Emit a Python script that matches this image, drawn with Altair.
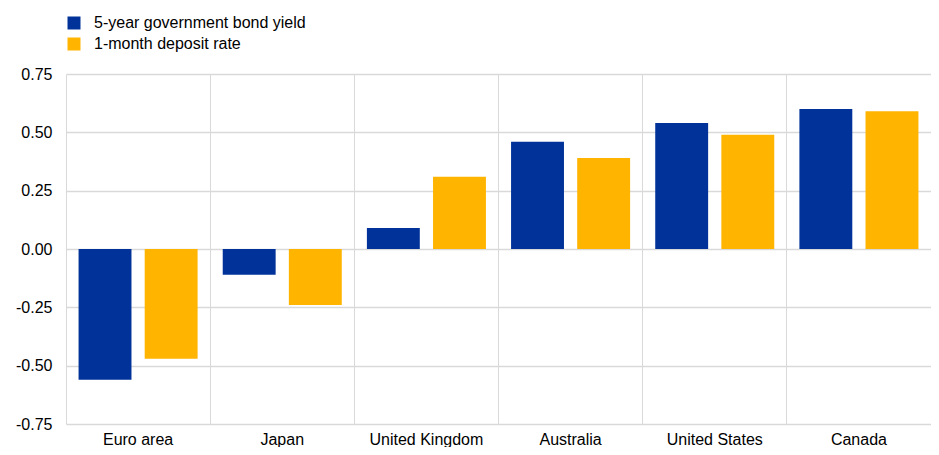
import altair as alt
import pandas as pd

countries = ["Euro area", "Japan", "United Kingdom", "Australia", "United States", "Canada"]
bond_yield = [-0.56, -0.11, 0.09, 0.46, 0.54, 0.60]
deposit_rate = [-0.47, -0.24, 0.31, 0.39, 0.49, 0.59]
series = ["5-year government bond yield", "1-month deposit rate"]
colors = ["#003299", "#FFB400"]
y_ticks = [-0.75, -0.5, -0.25, 0.0, 0.25, 0.5, 0.75]

rows = []
for c, a, b in zip(countries, bond_yield, deposit_rate):
    rows.append({"country": c, "series": series[0], "value": a})
    rows.append({"country": c, "series": series[1], "value": b})
df = pd.DataFrame(rows)

FONT = "Liberation Sans"

chart = alt.Chart(df).mark_bar().encode(
    x=alt.X(
        "country:N",
        sort=countries,
        scale=alt.Scale(paddingInner=0, paddingOuter=0),
        axis=alt.Axis(
            title=None, labelAngle=0, bandPosition=0, grid=True,
            gridColor="#d9d9d9", gridWidth=1, domain=False, ticks=False,
            labelFontSize=16, labelPadding=7, labelColor="#000000",
        ),
    ),
    xOffset=alt.XOffset(
        "series:N", sort=series,
        scale=alt.Scale(paddingInner=0.2, paddingOuter=0.19),
    ),
    y=alt.Y(
        "value:Q",
        scale=alt.Scale(domain=[-0.75, 0.75], nice=False, zero=False),
        axis=alt.Axis(
            values=y_ticks, title=None, grid=True, gridColor="#d9d9d9",
            gridWidth=1.5, domain=False, ticks=False, labelFontSize=16,
            labelPadding=14, labelColor="#000000",
            labelExpr="(datum.value < 0 ? '-' : '') + format(abs(datum.value), '.2f')",
        ),
    ),
    color=alt.Color(
        "series:N",
        sort=series,
        scale=alt.Scale(domain=series, range=colors),
        legend=alt.Legend(
            title=None, orient="none", legendX=0, legendY=-59,
            symbolType="square", symbolSize=169, symbolStrokeWidth=0,
            symbolOpacity=1, labelFontSize=16, labelColor="#000000",
            labelOffset=12, rowPadding=5, labelLimit=400,
        ),
    ),
).properties(
    width=865,
    height=350,
    autosize="none",
    padding={"left": 58, "top": 66, "right": 0, "bottom": 23},
).configure(font=FONT).configure_view(stroke=None)

chart.save("out.html", embed_options={"renderer": "svg", "actions": False})
